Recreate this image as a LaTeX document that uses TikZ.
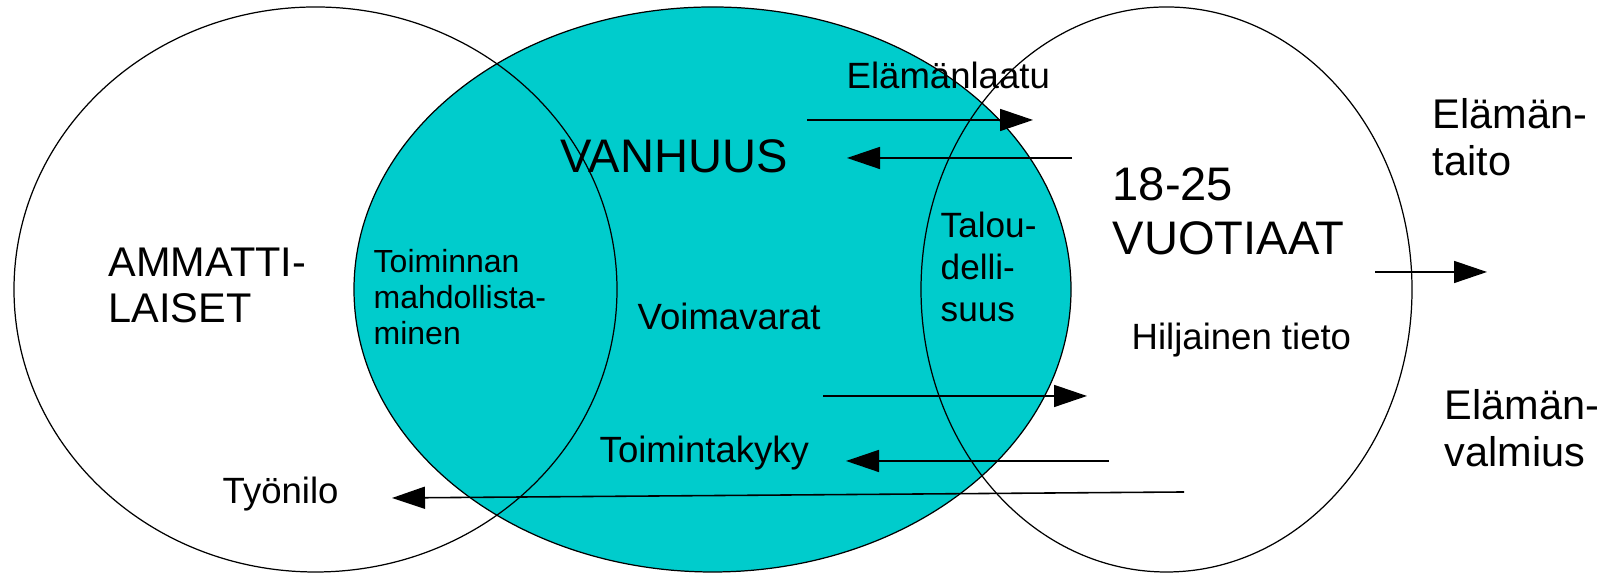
\documentclass[tikz,border=0pt]{standalone}
\usepackage{fontspec}
\setmainfont{Liberation Sans}
\usepackage{xcolor}
\usepackage{tikz}
\usetikzlibrary{arrows.meta}

\definecolor{vanhuusteal}{RGB}{0,204,204}

\tikzset{
  circleline/.style={draw=black, line width=0.35pt},
  flow/.style={-{Triangle[length=3.3mm,width=2.2mm]}, line width=0.45pt},
  lbl/.style={anchor=west, inner sep=0pt, align=left},
  smalltxt/.style={font=\fontsize{9.1}{10.3}\selectfont},
  normtxt/.style={font=\fontsize{10.4}{12}\selectfont},
  midtxt/.style={font=\fontsize{11.8}{13.3}\selectfont},
  bigtxt/.style={font=\fontsize{13.4}{15.4}\selectfont}
}

\begin{document}
\begin{tikzpicture}
            \useasboundingbox (0,0) rectangle (16.2,5.73);

            % Ellipses
            \fill[vanhuusteal] (7.125,2.835) ellipse [x radius=3.585, y radius=2.825];
            \draw[circleline] (3.155,2.835) ellipse [x radius=3.015, y radius=2.825];
            \draw[circleline] (7.125,2.835) ellipse [x radius=3.585, y radius=2.825];
            \draw[circleline] (11.665,2.835) ellipse [x radius=2.455, y radius=2.825];

            % Labels
            \node[lbl, midtxt] (ammatti) at (1.08,2.875) {AMMATTI-\\LAISET};
            \node[lbl, smalltxt] (toiminnan) at (3.73,2.76) {Toiminnan\\mahdollista-\\minen};
            \node[lbl, bigtxt] (vanhuus) at (5.60,4.165) {VANHUUS};
            \node[lbl, normtxt] (voimavarat) at (6.37,2.57) {Voimavarat};
            \node[lbl, normtxt] (toimintakyky) at (5.99,1.20) {Toimintakyky};
            \node[lbl, normtxt] (tyonilo) at (2.22,0.79) {Työnilo};
            \node[lbl, normtxt] (elamanlaatu) at (8.46,4.98) {Elämänlaatu};
            \node[lbl, font=\fontsize{10}{12}\selectfont] (talous) at (9.40,3.06) {Talou-\\delli-\\suus};
            \node[lbl, bigtxt] (nuoret) at (11.12,3.62) {18-25\\VUOTIAAT};
            \node[lbl, normtxt] (hiljainen) at (11.31,2.33) {Hiljainen tieto};
            \node[lbl, midtxt] (taito) at (14.32,4.355) {Elämän-\\taito};
            \node[lbl, midtxt] (valmius) at (14.44,1.445) {Elämän-\\valmius};

            % Arrow ends
            \coordinate (laatuA) at (8.07,4.53);
            \coordinate (laatuB) at (10.33,4.53);
            \coordinate (vanhA) at (10.72,4.15);
            \coordinate (vanhB) at (8.47,4.15);
            \coordinate (voimaA) at (8.23,1.77);
            \coordinate (voimaB) at (10.87,1.77);
            \coordinate (kykyA) at (11.09,1.12);
            \coordinate (kykyB) at (8.46,1.12);
            \coordinate (iloA) at (11.84,0.81);
            \coordinate (iloB) at (3.92,0.75);
            \coordinate (nuorA) at (13.75,3.01);
            \coordinate (nuorB) at (14.87,3.01);

            % Arrows
            \draw[flow] (laatuA) -- (laatuB);
            \draw[flow] (vanhA) -- (vanhB);
            \draw[flow] (voimaA) -- (voimaB);
            \draw[flow] (kykyA) -- (kykyB);
            \draw[flow] (iloA) -- (iloB);
            \draw[flow] (nuorA) -- (nuorB);
        \end{tikzpicture}
\end{document}
